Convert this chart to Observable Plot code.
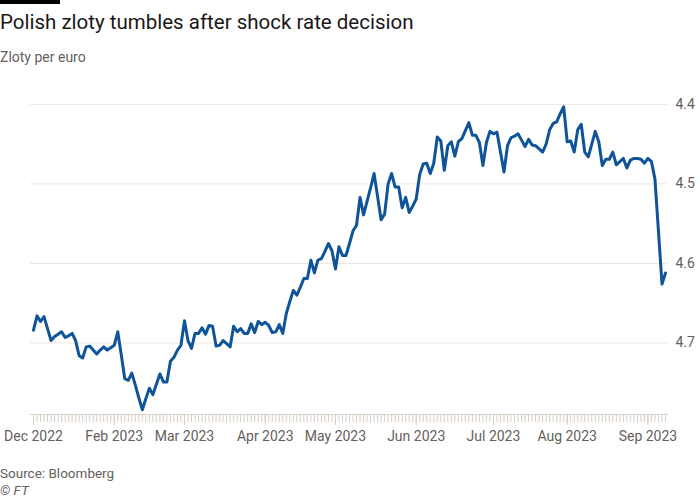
<!DOCTYPE html>
<html><head><meta charset="utf-8">
<script src="https://cdn.jsdelivr.net/npm/d3@7"></script>
<script src="https://cdn.jsdelivr.net/npm/@observablehq/plot@0.6"></script>
<style>
html,body{margin:0;padding:0;background:#fff;}
body{width:700px;height:500px;overflow:hidden;position:relative;font-family:Roboto, "Noto Sans", sans-serif;}
#bar{position:absolute;left:0;top:0;width:60px;height:4px;background:#000;}
#title{position:absolute;left:0;top:10px;font-size:20.5px;color:#1a1817;white-space:nowrap;}
#sub{position:absolute;left:0;top:49px;font-size:14px;color:#66605c;}
#chart{position:absolute;left:0;top:70px;}
#src{position:absolute;left:0;top:465px;font-size:13.5px;color:#66605c;}
#ft{position:absolute;left:0;top:482px;font-size:13.5px;color:#66605c;font-style:italic;}
</style></head>
<body>
<div id="bar"></div>
<div id="title">Polish zloty tumbles after shock rate decision</div>
<div id="sub">Zloty per euro</div>
<div id="chart"></div>
<div id="src">Source: Bloomberg</div>
<div id="ft">© FT</div>
<script>
// Business-day series: 30 Dec 2022 – 8 Sep 2023
const startDate = "2022-12-30";
const endDate = "2023-09-08";
const values = [
4.684,4.666,4.673,4.667,4.682,4.697,4.692,4.689,4.686,4.693,
4.691,4.688,4.697,4.716,4.719,4.705,4.704,4.709,4.714,4.709,
4.705,4.709,4.706,4.703,4.686,4.715,4.745,4.747,4.738,4.753,
4.769,4.784,4.770,4.757,4.765,4.752,4.739,4.749,4.749,4.723,
4.718,4.709,4.703,4.672,4.697,4.707,4.688,4.688,4.681,4.689,
4.678,4.679,4.704,4.703,4.697,4.701,4.705,4.679,4.686,4.682,
4.688,4.688,4.676,4.687,4.673,4.677,4.674,4.678,4.687,4.686,
4.677,4.688,4.663,4.648,4.634,4.640,4.630,4.619,4.619,4.596,
4.612,4.596,4.594,4.585,4.575,4.584,4.607,4.579,4.590,4.590,
4.575,4.559,4.552,4.517,4.539,4.522,4.505,4.487,4.516,4.545,
4.538,4.500,4.487,4.504,4.504,4.530,4.517,4.536,4.528,4.519,
4.488,4.475,4.474,4.487,4.474,4.441,4.446,4.483,4.452,4.447,
4.465,4.447,4.443,4.433,4.423,4.439,4.439,4.448,4.477,4.448,
4.434,4.437,4.435,4.460,4.485,4.452,4.442,4.440,4.437,4.445,
4.453,4.444,4.451,4.452,4.456,4.460,4.450,4.432,4.424,4.422,
4.412,4.403,4.447,4.446,4.460,4.432,4.425,4.460,4.466,4.450,
4.434,4.447,4.477,4.469,4.469,4.460,4.476,4.472,4.468,4.480,
4.470,4.468,4.468,4.469,4.474,4.468,4.472,4.494,4.560,4.626,
4.612
];
const tickMonths = ["2022-12","2023-02","2023-03","2023-04","2023-05","2023-06","2023-07","2023-08","2023-09"];
const tickLabels = ["Dec 2022","Feb 2023","Mar 2023","Apr 2023","May 2023","Jun 2023","Jul 2023","Aug 2023","Sep 2023"];
const yTicks = [4.4, 4.5, 4.6, 4.7];

// weekday dates (categories)
const dates = [];
{
  const d = new Date(startDate + "T00:00:00Z"), end = new Date(endDate + "T00:00:00Z");
  while (d <= end) {
    const wd = d.getUTCDay();
    if (wd !== 0 && wd !== 6) dates.push(d.toISOString().slice(0, 10));
    d.setUTCDate(d.getUTCDate() + 1);
  }
}
const data = dates.map((date, i) => ({date, value: values[i]}));
const tickDates = tickMonths.map(m => dates.find(d => d.startsWith(m)));

const chart = Plot.plot({
  width: 700, height: 385,
  marginLeft: 33, marginRight: 35, marginTop: 10, marginBottom: 41,
  style: {fontFamily: "Roboto, 'Noto Sans', sans-serif", fontSize: "14px", color: "#66605c", background: "#fff", overflow: "visible"},
  x: {type: "point", domain: dates, padding: 0, label: null},
  y: {domain: [4.79, 4.37], label: null},
  marks: [
    Plot.ruleY(yTicks, {stroke: "#ebe6e1", strokeWidth: 1, insetLeft: -3, insetRight: -2}),
    Plot.ruleY([4.79], {stroke: "#dcd3cb", strokeWidth: 1, insetLeft: -3, insetRight: -3}),
    Plot.axisX(dates, {tickSize: 8, tickPadding: 0, tickFormat: () => "", label: null, stroke: "#d6cdc5", strokeWidth: 1}),
    Plot.axisX(tickDates, {tickSize: 11, tickPadding: 6, label: null, stroke: "#d6cdc5", strokeWidth: 1, fill: "#66605c",
      tickFormat: d => tickLabels[tickDates.indexOf(d)]}),
    Plot.axisY(yTicks, {anchor: "right", tickSize: 0, tickPadding: 10, label: null, fill: "#66605c", tickFormat: d3.format(".1f")}),
    Plot.line(data, {x: "date", y: "value", stroke: "#0f5499", strokeWidth: 3, strokeLinejoin: "round"})
  ]
});
document.getElementById("chart").appendChild(chart);
</script>
</body></html>
